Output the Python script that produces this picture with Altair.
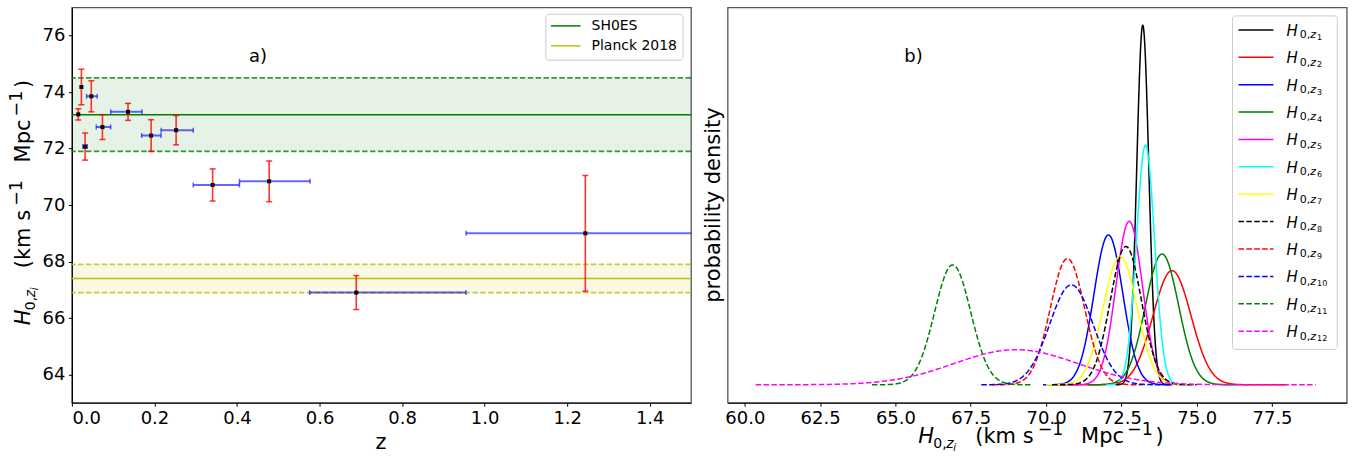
import altair as alt
import numpy as np
import pandas as pd

FONT = "DejaVu Sans"

# ---------------- data ----------------
z      = [0.0155, 0.023, 0.032, 0.047, 0.074, 0.136, 0.192, 0.2525, 0.341, 0.478, 0.689, 1.244]
z_lo   = [0.0155, 0.023, 0.0266, 0.0356, 0.059, 0.094, 0.169, 0.216, 0.294, 0.406, 0.576, 0.955]
z_hi   = [0.0155, 0.023, 0.0372, 0.0614, 0.094, 0.170, 0.216, 0.294, 0.406, 0.577, 0.955, 1.60]
H0     = [73.21, 74.18, 72.07, 73.85, 72.76, 73.30, 72.46, 72.65, 70.71, 70.84, 66.90, 69.00]
H0_err = [0.20, 0.63, 0.48, 0.55, 0.44, 0.30, 0.56, 0.52, 0.57, 0.72, 0.60, 2.05]

ref_names  = ["SH0ES", "Planck 2018"]
ref_values = [73.2, 67.4]
ref_errs   = [1.3, 0.5]
ref_colors = ["#008000", "#bfbf00"]

curve_nums   = [str(i) for i in range(1, 13)]
curve_colors = ["#000000", "#ff0000", "#0000ff", "#008000", "#ff00ff", "#00ffff",
                "#ffff00", "#000000", "#ff0000", "#0000ff", "#008000", "#ff00ff"]
curve_dashed = [False] * 7 + [True] * 5
curve_xmin   = [72.30, 70.40, 69.90, 71.40, 70.80, 72.00, 70.00, 70.20, 68.20, 67.85, 64.22, 60.36]
curve_xmax   = [74.10, 77.96, 74.20, 76.30, 74.70, 74.60, 74.90, 75.00, 73.20, 73.80, 69.55, 78.95]

x_ticks_l = [0.0, 0.2, 0.4, 0.6, 0.8, 1.0, 1.2, 1.4]
y_ticks_l = [64, 66, 68, 70, 72, 74, 76]
x_ticks_r = [60.0, 62.5, 65.0, 67.5, 70.0, 72.5, 75.0, 77.5]

# ---------------- tables ----------------
pts = pd.DataFrame(dict(z=z, z_lo=z_lo, z_hi=z_hi, H0=H0, err=H0_err))
pts["y_lo"] = pts["H0"] - pts["err"]
pts["y_hi"] = pts["H0"] + pts["err"]

refs = pd.DataFrame(dict(name=ref_names, v=ref_values, e=ref_errs, color=ref_colors))
refs["lo"] = refs["v"] - refs["e"]
refs["hi"] = refs["v"] + refs["e"]
ref_lines = pd.DataFrame(dict(
    y=list(refs["lo"]) + list(refs["hi"]),
    color=ref_colors + ref_colors))

rows = []
for i in range(12):
    xs = np.linspace(curve_xmin[i], curve_xmax[i], 600)
    mu, s = H0[i], H0_err[i]
    dens = np.exp(-0.5 * ((xs - mu) / s) ** 2) / (s * np.sqrt(2 * np.pi))
    for a, b in zip(xs, dens):
        rows.append((i, a, b))
curves = pd.DataFrame(rows, columns=["curve", "x", "density"])

W, H = 620, 396

def piece(text, x, y, size, italic=False, angle=0, align="left", baseline="alphabetic"):
    return alt.Chart(alt.Data(values=[{}])).mark_text(
        text=text, fontSize=size, fontStyle="italic" if italic else "normal",
        angle=angle, align=align, baseline=baseline, font=FONT, color="black"
    ).encode(x=alt.value(x), y=alt.value(y))

def frame(x, x2, y, y2):
    # invisible rectangle that pins the outer bounds of the figure
    return alt.Chart(alt.Data(values=[{}])).mark_rect(opacity=0, fill="white").encode(
        x=alt.value(x), x2=alt.value(x2), y=alt.value(y), y2=alt.value(y2))

# math title pieces: (text, offset along text, shift toward 'down', size, italic)
title_pieces = [
    ("H", 0.0, 0, 21, True),
    ("0,", 15.0, 5, 14, False),
    ("z", 28.0, 5, 14, True),
    ("i", 35.0, 8, 10, True),
    ("(km s", 57.0, 0, 21, False),
    ("\u22121", 119.5, -8, 17.5, False),
    ("Mpc", 163.0, 0, 21, False),
    ("\u22121", 209.0, -8, 17.5, False),
    (")", 237.5, 0, 21, False),
]

# ---------------- left panel ----------------
xsc_l = alt.Scale(domain=[0, 1.5], nice=False, zero=False)
ysc_l = alt.Scale(domain=[63, 77], nice=False, zero=False)
xax_l = alt.Axis(values=x_ticks_l, format=".1f", title=None)
yax_l = alt.Axis(values=y_ticks_l, format="d", title=None)

def XL(f):
    return alt.X(f, type="quantitative", scale=xsc_l, axis=xax_l)

def YL(f):
    return alt.Y(f, type="quantitative", scale=ysc_l, axis=yax_l)

bands = alt.Chart(refs).mark_rect(opacity=0.1).encode(
    x=alt.value(0), x2=alt.value(W), y=YL("lo"), y2="hi",
    color=alt.Color("color:N", scale=None))
dashed = alt.Chart(ref_lines).mark_rule(strokeDash=[5.5, 2.4], strokeWidth=1.8, opacity=0.8).encode(
    y=YL("y"), color=alt.Color("color:N", scale=None))
solid = alt.Chart(refs).mark_rule(strokeWidth=1.5).encode(
    y=YL("v"), color=alt.Color("color:N", scale=None))

xe = alt.Chart(pts).transform_filter("datum.z_hi > datum.z_lo")
xerr = xe.mark_rule(color="#0000ff", opacity=0.6, strokeWidth=2, clip=True).encode(
    x=XL("z_lo"), x2="z_hi", y=YL("H0"))
xcap1 = xe.mark_tick(orient="vertical", size=5, thickness=1.5, color="#0000ff", opacity=0.6, clip=True).encode(
    x=XL("z_lo"), y=YL("H0"))
xcap2 = xe.mark_tick(orient="vertical", size=5, thickness=1.5, color="#0000ff", opacity=0.6, clip=True).encode(
    x=XL("z_hi"), y=YL("H0"))

yerr = alt.Chart(pts).mark_rule(color="#ff0000", opacity=0.8, strokeWidth=1.6).encode(
    x=XL("z"), y=YL("y_lo"), y2="y_hi")
ycap1 = alt.Chart(pts).mark_tick(orient="horizontal", size=6, thickness=1.5, color="#ff0000", opacity=0.8).encode(
    x=XL("z"), y=YL("y_lo"))
ycap2 = alt.Chart(pts).mark_tick(orient="horizontal", size=6, thickness=1.5, color="#ff0000", opacity=0.8).encode(
    x=XL("z"), y=YL("y_hi"))
points = alt.Chart(pts).mark_square(size=16, color="black", opacity=1).encode(
    x=XL("z"), y=YL("H0"))

left_texts = [frame(-71.3, 10, -5.7, H + 59.3),
              piece("a)", 186.4, 54.3, 18, align="center"),
              piece("z", 309.5, 442.3, 21, align="center")]
ystart = 318.3
for t, off, dn, sz, it in title_pieces:
    left_texts.append(piece(t, -42.3 + dn, ystart - off, sz, it, angle=270))

main_left = alt.layer(bands, dashed, solid, xerr, xcap1, xcap2, yerr, ycap1, ycap2, points, *left_texts)

leg_l = pd.DataFrame(dict(idx=[0, 1], name=ref_names, color=ref_colors))
ly = alt.Y("idx:Q", scale=alt.Scale(domain=[0, 1], range=[18.6, 38.6]), axis=None)
box_l = alt.Chart(alt.Data(values=[{}])).mark_rect(
    fill="white", fillOpacity=0.8, stroke="#cccccc", strokeWidth=1, cornerRadius=3).encode(
    x=alt.value(474.7), x2=alt.value(612), y=alt.value(7), y2=alt.value(53))
leg_lines_l = alt.Chart(leg_l).mark_rule(strokeWidth=1.5).encode(
    x=alt.value(479.7), x2=alt.value(509.4), y=ly, color=alt.Color("color:N", scale=None))
leg_text_l = alt.Chart(leg_l).mark_text(align="left", baseline="middle", fontSize=14, font=FONT, color="black").encode(
    x=alt.value(520.4), y=ly, text="name:N")
legend_left = alt.layer(box_l, leg_lines_l, leg_text_l)

left = alt.layer(main_left, legend_left).resolve_scale(y="independent").properties(width=W, height=H)

# ---------------- right panel ----------------
xsc_r = alt.Scale(domain=[59.43, 79.98], nice=False, zero=False)
ysc_r = alt.Scale(domain=[-0.0998, 2.094], nice=False, zero=False)
xax_r = alt.Axis(values=x_ticks_r, format=".1f", title=None)

curve_layers = []
for i in range(12):
    mk = dict(strokeWidth=1.5, color=curve_colors[i])
    if curve_dashed[i]:
        mk["strokeDash"] = [5.5, 2.4]
    curve_layers.append(
        alt.Chart(curves).transform_filter(alt.datum.curve == i).mark_line(**mk).encode(
            x=alt.X("x:Q", scale=xsc_r, axis=xax_r),
            y=alt.Y("density:Q", scale=ysc_r, axis=None)))

right_texts = [frame(W - 10, W + 19.3, -5.7, H + 59.3),
               piece("b)", 186.1, 54.3, 18, align="center"),
               piece("probability density", -7.7, 198, 21, angle=270, align="center")]
xstart = 191.0
for t, off, dn, sz, it in title_pieces:
    right_texts.append(piece(t, xstart + off, 436 + dn, sz, it))

main_right = alt.layer(*curve_layers, *right_texts)

leg_r = pd.DataFrame(dict(idx=list(range(12)), num=curve_nums, color=curve_colors, dashed=curve_dashed))
ry = alt.Y("idx:Q", scale=alt.Scale(domain=[0, 11], range=[22.6, 324.3]), axis=None)
box_r = alt.Chart(alt.Data(values=[{}])).mark_rect(
    fill="white", fillOpacity=0.8, stroke="#cccccc", strokeWidth=1, cornerRadius=3).encode(
    x=alt.value(505.6), x2=alt.value(610.6), y=alt.value(8.6), y2=alt.value(342.6))
lr = alt.Chart(leg_r)
leg_solid = lr.transform_filter("!datum.dashed").mark_rule(strokeWidth=1.5).encode(
    x=alt.value(511.6), x2=alt.value(546.6), y=ry, color=alt.Color("color:N", scale=None))
leg_dash = lr.transform_filter("datum.dashed").mark_rule(strokeWidth=1.5, strokeDash=[5.5, 2.4]).encode(
    x=alt.value(511.6), x2=alt.value(546.6), y=ry, color=alt.Color("color:N", scale=None))
leg_H = lr.mark_text(text="H", fontSize=15, fontStyle="italic", align="left", baseline="alphabetic",
                     dy=6, font=FONT, color="black").encode(x=alt.value(559.6), y=ry)
leg_0 = lr.mark_text(text="0,", fontSize=11, align="left", baseline="alphabetic",
                     dy=8.4, font=FONT, color="black").encode(x=alt.value(573), y=ry)
leg_z = lr.mark_text(text="z", fontSize=11, fontStyle="italic", align="left", baseline="alphabetic",
                     dy=8.4, font=FONT, color="black").encode(x=alt.value(583.5), y=ry)
leg_n = lr.mark_text(fontSize=8, align="left", baseline="alphabetic",
                     dy=10, font=FONT, color="black").encode(x=alt.value(590.3), y=ry, text="num:N")
legend_right = alt.layer(box_r, leg_solid, leg_dash, leg_H, leg_0, leg_z, leg_n)

right = alt.layer(main_right, legend_right).resolve_scale(y="independent").properties(width=W, height=H)

chart = alt.hconcat(left, right, spacing=36.7, bounds="flush").properties(
    padding=0,
).configure_view(
    stroke="#555555", strokeWidth=1.3
).configure_axis(
    grid=False, domainColor="black", domainWidth=1.2, tickColor="black", tickWidth=1,
    tickSize=3.5, labelColor="black", labelFont=FONT, labelFontSize=18, labelPadding=3.5,
)

chart.save("out.html", embed_options={"renderer": "svg", "actions": False})
